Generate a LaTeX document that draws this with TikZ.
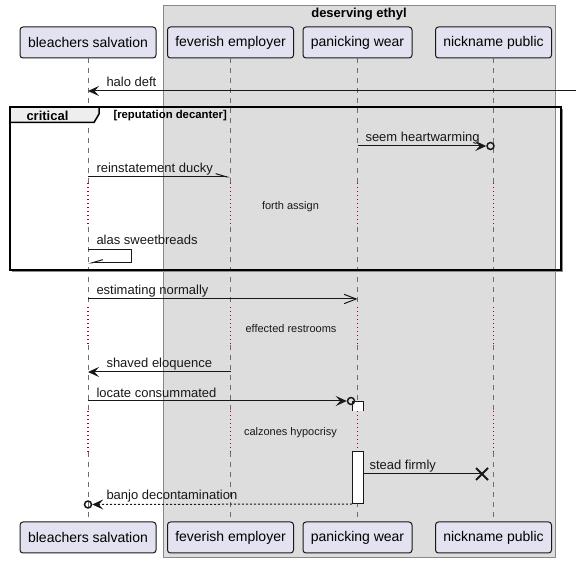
\documentclass[tikz,border=0pt]{standalone}
\usepackage{fontspec}
\setmainfont{Liberation Sans}
\usetikzlibrary{arrows.meta,shapes.misc}

\definecolor{partfill}{RGB}{226,226,240}
\definecolor{partline}{RGB}{24,24,24}
\definecolor{groupfill}{RGB}{221,221,221}
\definecolor{groupline}{RGB}{136,136,136}
\definecolor{lifegrey}{RGB}{110,110,110}
\definecolor{delayred}{RGB}{168,0,54}
\definecolor{tabfill}{RGB}{238,238,238}

\tikzset{every picture/.style={line width=0.75pt}}

\begin{document}
\begin{tikzpicture}[x=0.75pt,y=0.75pt,yscale=-1,xscale=1,
  participant/.style={draw=partline,fill=partfill,rounded corners=2.25pt,minimum height=23.25pt,inner sep=0pt,font=\fontsize{10.5}{12}\selectfont},
  msg/.style={draw=partline},
  msglabel/.style={anchor=base west,inner sep=0pt,text=partline,font=\fontsize{9.75}{11}\selectfont},
  delaylabel/.style={inner sep=0pt,text=partline,font=\fontsize{8.25}{10}\selectfont},
  lifeline/.style={draw=lifegrey,dash pattern=on 3.75pt off 3.75pt},
  delayline/.style={draw=delayred,line width=0.9pt,dash pattern=on 0.9pt off 2.1pt},
  frameline/.style={draw=black,line width=1.125pt},
  headcirc/.style={circle,draw=partline,line width=1.1pt,inner sep=0pt,minimum size=5.25pt},
  filledhead/.style={-{Stealth[length=8.25pt,width=7.5pt,inset=3.3pt]}},
  openhead/.style={-{Straight Barb[length=9pt,width=7pt]}},
  halfhead/.style={-{Straight Barb[#1,length=8.5pt,width=5pt]}},
  actbar/.style={draw=partline,fill=white}
]
\useasboundingbox (0,0) rectangle (576,563);

%Group box
\draw [draw=groupline,fill=groupfill] (163,6) rectangle (555,557.5) ;
\node [inner sep=0pt,font=\fontsize{9.75}{11}\selectfont\bfseries] (grp) at (359,14.5) {deserving ethyl};

%Participants (top and bottom)
\node [participant,minimum width=102pt] (bs) at (88,42.5) {bleachers salvation};
\node [participant,minimum width=94.5pt] (fe) at (230.5,42.5) {feverish employer};
\node [participant,minimum width=81.75pt] (pw) at (357.5,42.5) {panicking wear};
\node [participant,minimum width=87pt] (np) at (493.5,42.5) {nickname public};
\node [participant,minimum width=102pt] (bs-b) at (88,537.5) {bleachers salvation};
\node [participant,minimum width=94.5pt] (fe-b) at (230.5,537.5) {feverish employer};
\node [participant,minimum width=81.75pt] (pw-b) at (357.5,537.5) {panicking wear};
\node [participant,minimum width=87pt] (np-b) at (493.5,537.5) {nickname public};

%Rows
\coordinate (d1) at (0,183); \coordinate (d1e) at (0,227);
\coordinate (d2) at (0,307); \coordinate (d2e) at (0,345);
\coordinate (d3) at (0,411); \coordinate (d3e) at (0,452);

%Lifelines
\foreach \p in {bs,fe,pw,np}{
  \draw [lifeline] (\p.south) -- (\p |- d1) ;
  \draw [delayline] (\p |- d1) -- (\p |- d1e) ;
  \draw [lifeline] (\p |- d1e) -- (\p |- d2) ;
  \draw [delayline] (\p |- d2) -- (\p |- d2e) ;
  \draw [lifeline] (\p |- d2e) -- (\p |- d3) ;
  \draw [delayline] (\p |- d3) -- (\p |- d3e) ;
  \draw [lifeline] (\p |- d3e) -- (\p-b.north) ;
}

%Critical frame
\draw [frameline,fill=tabfill] (10,107) -- (99,107) -- (99,114) -- (94,122.5) -- (10,122.5) -- cycle ;
\draw [draw=black!45,line width=1.125pt] (562.5,109) -- (562.5,271.5) -- (12,271.5) ;
\draw [frameline] (10,107) rectangle (561,270) ;
\node [anchor=west,inner sep=0pt,font=\fontsize{9.75}{11}\selectfont\bfseries] (crit) at (26,116) {critical};
\node [anchor=west,inner sep=0pt,font=\fontsize{8.5}{10}\selectfont\bfseries] (guard) at (113,115.5) {[reputation decanter]};

%Activation bars
\coordinate (a1) at (352,402); \coordinate (a1e) at (363,411);
\coordinate (a2) at (352,452); \coordinate (a2e) at (363,504);
\draw [actbar] (a1 |- a1e) -- (a1) -- (a1e |- a1) -- (a1e) ;
\draw [actbar] (a2) rectangle (a2e) ;

% Connection: halo deft
\coordinate (hd-in) at (576,91);
\draw [msg,filledhead] (hd-in) -- (bs |- hd-in) ;
\node [msglabel] (hd) at (106,87) {halo deft};

% Connection: seem heartwarming
\node [headcirc] (c1) at (490.5,146) {};
\draw [msg,filledhead] (pw |- c1) -- (c1) ;
\node [msglabel] (sh) at (365,142) {seem heartwarming};

% Connection: reinstatement ducky
\coordinate (rd-y) at (0,177);
\draw [msg,halfhead=left] (bs |- rd-y) -- (fe |- rd-y) ;
\node [msglabel] (rd) at (96,173) {reinstatement ducky};

% Text Node
\node [delaylabel] (fa) at (290.5,207) {forth assign};

% Connection: alas sweetbreads
\coordinate (self-a) at (131,250); \coordinate (self-b) at (131,263);
\draw [msg,halfhead=right] (bs |- self-a) -- (self-a) -- (self-b) -- (bs |- self-b) ;
\node [msglabel] (as) at (96,245) {alas sweetbreads};

% Connection: estimating normally
\coordinate (en-y) at (0,299);
\draw [msg,openhead] (bs |- en-y) -- (pw |- en-y) ;
\node [msglabel] (en) at (96,295) {estimating normally};

% Text Node
\node [delaylabel] (er) at (291,329) {effected restrooms};

% Connection: shaved eloquence
\coordinate (se-y) at (0,372);
\draw [msg,filledhead] (fe |- se-y) -- (bs |- se-y) ;
\node [msglabel] (se) at (106,368) {shaved eloquence};

% Connection: locate consummated
\node [headcirc] (c2) at (351,401) {};
\draw [msg,filledhead] (bs |- c2) -- (c2) ;
\node [msglabel] (lc) at (96,397.5) {locate consummated};

% Text Node
\node [delaylabel] (ch) at (290.5,432.5) {calzones hypocrisy};

% Connection: stead firmly
\node [cross out,draw=partline,line width=1.5pt,inner sep=0pt,minimum size=7.5pt] (x1) at (482,474) {};
\draw [msg] (a2e |- x1) -- (x1.center) ;
\node [msglabel] (sf) at (369,470) {stead firmly};

% Connection: banjo decontamination
\node [headcirc] (c3) at (88,504.5) {};
\draw [msg,filledhead,dash pattern=on 1.5pt off 1.5pt] (a2 |- a2e) -- (c3) ;
\node [msglabel] (bd) at (106,500) {banjo decontamination};

\end{tikzpicture}
\end{document}
